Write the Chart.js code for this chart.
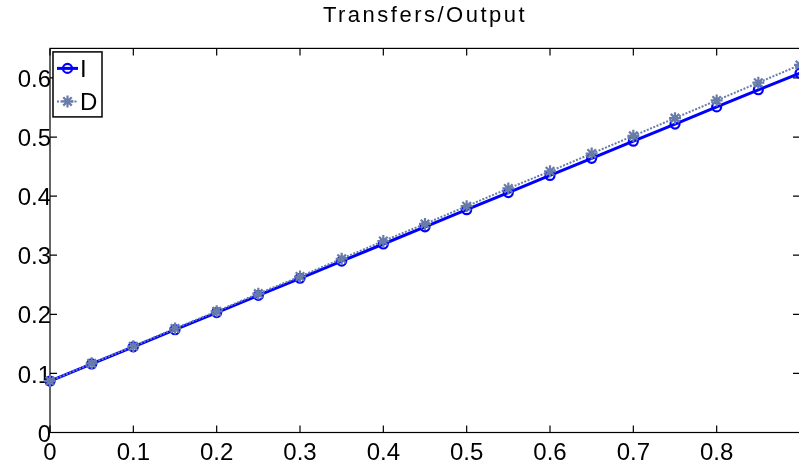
<!DOCTYPE html>
<html><head><meta charset="utf-8">
<script src="https://cdn.jsdelivr.net/npm/chart.js@4.4.1/dist/chart.umd.min.js"></script>
<style>html,body{margin:0;padding:0;overflow:hidden;background:#fff}
#wrap{position:relative;width:800px;height:475px}</style></head>
<body><div id="wrap"><canvas id="c"></canvas></div>
<script>
const titleText = 'Transfers/Output';
const seriesNames = ['I', 'D'];
const xValues = [0, 0.05, 0.1, 0.15, 0.2, 0.25, 0.3, 0.35, 0.4, 0.45, 0.5, 0.55, 0.6, 0.65, 0.7, 0.75, 0.8, 0.85, 0.9];
const seriesI = [0.087, 0.116, 0.145, 0.174, 0.203, 0.232, 0.261, 0.290, 0.319, 0.348, 0.377, 0.406, 0.435, 0.464, 0.493, 0.522, 0.551, 0.580, 0.608];
const seriesD = [0.087, 0.117, 0.146, 0.176, 0.205, 0.235, 0.264, 0.294, 0.324, 0.353, 0.383, 0.413, 0.442, 0.472, 0.502, 0.532, 0.562, 0.592, 0.622];
const xTicks = [0, 0.1, 0.2, 0.3, 0.4, 0.5, 0.6, 0.7, 0.8];
const yTicks = [0, 0.1, 0.2, 0.3, 0.4, 0.5, 0.6];
const xRange = [0, 0.9];
const yRange = [0, 0.65];

const FONT = 'Liberation Sans, Arial, Helvetica, sans-serif';

const spacingPlugin = {
  id: 'spacing',
  beforeDraw(chart) {
    const wrap = (obj, sp) => {
      if (!obj || obj._spWrapped) return;
      const orig = obj.draw;
      obj.draw = function (...args) {
        const c = this.ctx;
        c.save();
        c.letterSpacing = sp;
        orig.apply(this, args);
        c.restore();
      };
      obj._spWrapped = true;
    };
    wrap(chart.titleBlock, '2.5px');
    wrap(chart.scales.x, '2px');
    wrap(chart.scales.y, '2px');
  }
};

const framePlugin = {
  id: 'frame',
  beforeDatasetsDraw(chart) {
    const { ctx, chartArea: a, scales } = chart;
    const x = scales.x, y = scales.y;
    const L = 7;
    ctx.save();
    ctx.strokeStyle = '#000';
    ctx.lineWidth = 1.2;
    ctx.strokeRect(a.left, a.top, a.right - a.left, a.bottom - a.top);
    ctx.beginPath();
    x.ticks.forEach(t => {
      const p = x.getPixelForValue(t.value);
      ctx.moveTo(p, a.bottom); ctx.lineTo(p, a.bottom - L);
      ctx.moveTo(p, a.top); ctx.lineTo(p, a.top + L);
    });
    y.ticks.forEach(t => {
      const p = y.getPixelForValue(t.value);
      ctx.moveTo(a.left, p); ctx.lineTo(a.left + L, p);
      ctx.moveTo(a.right, p); ctx.lineTo(a.right - L, p);
    });
    ctx.stroke();
    ctx.restore();
  }
};

const legendPlugin = {
  id: 'boxLegend',
  afterDatasetsDraw(chart) {
    const { ctx, chartArea: a } = chart;
    const bx = a.left + 3, by = a.top + 3.5, bw = 49, bh = 65;
    ctx.save();
    ctx.letterSpacing = '0px';
    ctx.fillStyle = '#fff';
    ctx.fillRect(bx, by, bw, bh);
    ctx.strokeStyle = '#000';
    ctx.lineWidth = 1.5;
    ctx.strokeRect(bx, by, bw, bh);
    chart.data.datasets.forEach((ds, i) => {
      const cy = by + 16.5 + i * 33;
      ctx.save();
      ctx.strokeStyle = ds.borderColor;
      ctx.lineWidth = ds.borderWidth;
      ctx.setLineDash(ds.borderDash || []);
      ctx.beginPath();
      ctx.moveTo(bx + 4, cy); ctx.lineTo(bx + 25, cy);
      ctx.stroke();
      ctx.restore();
      ctx.save();
      ctx.strokeStyle = ds.pointBorderColor;
      ctx.fillStyle = ds.pointBackgroundColor;
      ctx.lineWidth = ds.pointBorderWidth;
      Chart.helpers.drawPoint(ctx, {
        pointStyle: ds.pointStyle, radius: ds.pointRadius, rotation: 0,
        borderWidth: ds.pointBorderWidth
      }, bx + 14.5, cy);
      ctx.restore();
      ctx.fillStyle = '#000';
      ctx.font = '24px ' + FONT;
      ctx.textBaseline = 'middle';
      ctx.textAlign = 'left';
      ctx.fillText(ds.label, bx + 27, cy + 1.5);
    });
    ctx.restore();
  }
};

const ptsI = xValues.map((v, i) => ({ x: v, y: seriesI[i] }));
const ptsD = xValues.map((v, i) => ({ x: v, y: seriesD[i] }));

new Chart(document.getElementById('c'), {
  type: 'line',
  data: {
    datasets: [
      {
        label: seriesNames[0], data: ptsI, order: 1, clip: false,
        borderColor: '#0000ff', borderWidth: 3, tension: 0,
        pointStyle: 'circle', pointRadius: 4.5, pointBorderWidth: 2.2,
        pointBorderColor: '#0000ff', pointBackgroundColor: 'rgba(0,0,0,0)'
      },
      {
        label: seriesNames[1], data: ptsD, order: 0, clip: false,
        borderColor: 'rgb(104,124,170)', borderWidth: 2, borderDash: [2, 1.5], tension: 0,
        pointStyle: 'star', pointRadius: 6, pointBorderWidth: 2.2,
        pointBorderColor: 'rgb(104,124,170)', pointBackgroundColor: 'rgb(104,124,170)'
      }
    ]
  },
  options: {
    responsive: true, maintainAspectRatio: false, animation: false,
    events: [],
    layout: { padding: 0, autoPadding: false },
    plugins: {
      legend: { display: false },
      tooltip: { enabled: false },
      title: {
        display: true, text: titleText, color: '#000', fullSize: false,
        font: { family: FONT, size: 22, weight: 'normal' },
        padding: { top: 3, bottom: 19 }
      }
    },
    scales: {
      x: {
        type: 'linear', min: xRange[0], max: xRange[1],
        afterBuildTicks(s) { s.ticks = xTicks.map(v => ({ value: v })); },
        afterFit(s) { s.height = 42.5; s.paddingLeft = 0; s.paddingRight = 0; },
        grid: { display: false, drawTicks: false },
        border: { display: false },
        ticks: {
          color: '#000', font: { family: FONT, size: 24 }, padding: 6,
          maxRotation: 0, autoSkip: false, callback: v => String(v)
        }
      },
      y: {
        type: 'linear', min: yRange[0], max: yRange[1],
        afterBuildTicks(s) { s.ticks = yTicks.map(v => ({ value: v })); },
        afterFit(s) { s.width = 50; s.paddingTop = 0; s.paddingBottom = 0; },
        grid: { display: false, drawTicks: false },
        border: { display: false },
        ticks: {
          color: '#000', font: { family: FONT, size: 24 }, padding: -1, labelOffset: 2.5,
          autoSkip: false, callback: v => String(v)
        }
      }
    }
  },
  plugins: [spacingPlugin, framePlugin, legendPlugin]
});
</script>
</body></html>
